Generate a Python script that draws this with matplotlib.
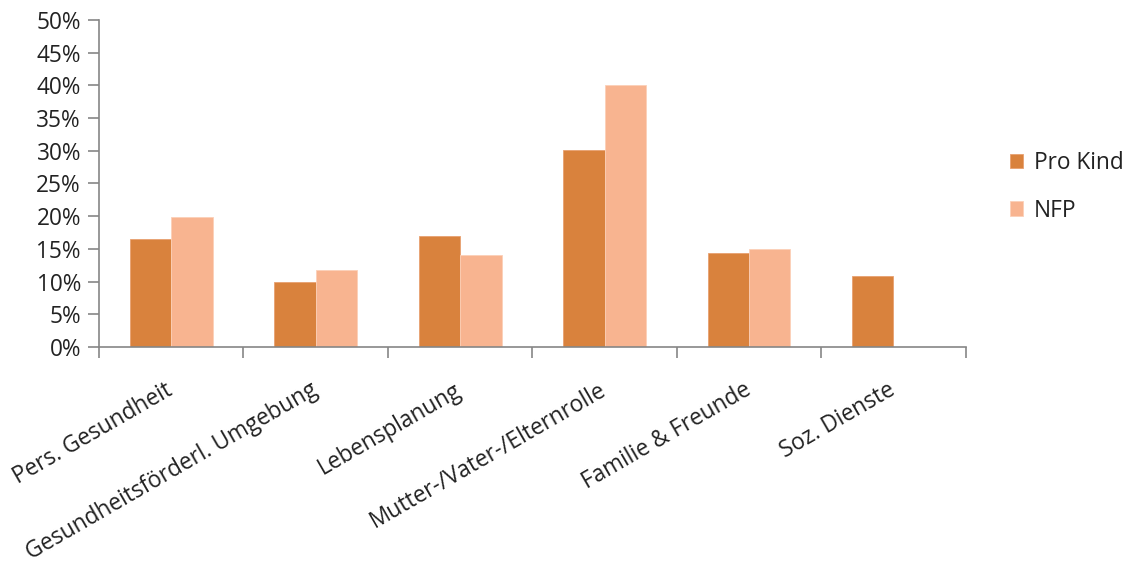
import matplotlib
matplotlib.use("Agg")
import matplotlib.pyplot as plt
import numpy as np
from matplotlib.ticker import FuncFormatter, FixedLocator

categories = ["Pers. Gesundheit", "Gesundheitsförderl. Umgebung", "Lebensplanung",
              "Mutter-/Vater-/Elternrolle", "Familie & Freunde", "Soz. Dienste"]
pro_kind = [16.5, 10.0, 17.0, 30.1, 14.3, 10.8]
nfp = [19.8, 11.8, 14.0, 40.1, 14.9, None]
series_names = ["Pro Kind", "NFP"]

col_pk = "#D9823D"
col_nfp = "#F8B490"
axis_col = "#868686"
text_col = "#222222"
fs = 16.3

plt.rcParams["font.family"] = ["Open Sans", "DejaVu Sans"]

fig = plt.figure(figsize=(11.32, 5.65), dpi=100)
ax = fig.add_axes([0.0875, 0.386, 0.853 - 0.0875, 0.9646 - 0.386])

x = np.arange(len(categories))
w = 0.287
ax.bar(x - w / 2, pro_kind, width=w, color=col_pk, edgecolor="#E8A070", linewidth=0.6,
       label=series_names[0], zorder=2)
nfp_x = [xi + w / 2 for xi, v in zip(x, nfp) if v is not None]
nfp_v = [v for v in nfp if v is not None]
ax.bar(nfp_x, nfp_v, width=w, color=col_nfp, edgecolor="#FCD0B8", linewidth=0.6,
       label=series_names[1], zorder=2)

ax.set_xlim(-0.5, len(categories) - 0.5)
ax.set_ylim(0, 50)
ax.yaxis.set_major_locator(FixedLocator(np.arange(0, 51, 5)))
ax.yaxis.set_major_formatter(FuncFormatter(lambda v, p: f"{v:.0f}%"))

for s in ["top", "right"]:
    ax.spines[s].set_visible(False)
for s in ["left", "bottom"]:
    ax.spines[s].set_color(axis_col)
    ax.spines[s].set_linewidth(1.2)

ax.tick_params(axis="y", direction="out", length=8, width=1.2, color=axis_col,
               labelsize=fs, labelcolor=text_col, pad=5)

# category boundaries carry the tick marks, labels sit at the centres
ax.set_xticks(np.arange(-0.5, len(categories), 1.0), minor=True)
ax.set_xticks(x)
ax.tick_params(axis="x", which="minor", direction="out", length=8, width=1.2, color=axis_col)
ax.tick_params(axis="x", which="major", length=0, pad=30)
ax.set_xticklabels(categories, rotation=30, ha="right", va="center",
                   rotation_mode="anchor", fontsize=fs, color=text_col)

leg = ax.legend(loc="upper left", bbox_to_anchor=(0.878, 0.761), bbox_transform=fig.transFigure,
                frameon=False, fontsize=fs, handlelength=0.6, handleheight=0.6,
                handletextpad=0.45, labelspacing=1.05, borderpad=0.2)
for t in leg.get_texts():
    t.set_color(text_col)

fig.savefig("out.png", dpi=100, facecolor="white")
